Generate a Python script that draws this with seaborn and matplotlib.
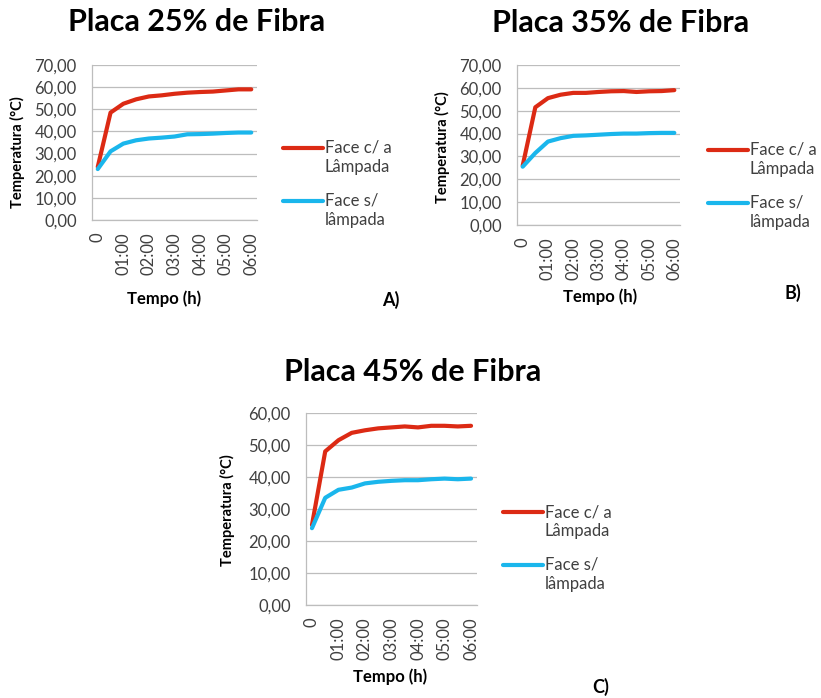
import numpy as np
import pandas as pd
import matplotlib
matplotlib.use("Agg")
import matplotlib.pyplot as plt
import seaborn as sns
from matplotlib.ticker import FuncFormatter

sns.set_theme(style="white")
plt.rcParams['font.family'] = ['Lato', 'DejaVu Sans']

# ---- data ----
time_labels = ["0", "00:30", "01:00", "01:30", "02:00", "02:30", "03:00",
               "03:30", "04:00", "04:30", "05:00", "05:30", "06:00"]
tick_labels = ["0", "01:00", "02:00", "03:00", "04:00", "05:00", "06:00"]
series_names = ["Face c/ a\nLâmpada", "Face s/\nlâmpada"]

a_com = [24.0, 48.5, 52.5, 54.5, 55.8, 56.3, 57.0, 57.5, 57.8, 58.0, 58.5, 59.0, 59.0]
a_sem = [23.0, 31.0, 34.5, 36.0, 36.8, 37.2, 37.7, 38.7, 38.8, 39.0, 39.3, 39.5, 39.5]

b_com = [26.0, 51.5, 55.5, 57.0, 57.8, 57.8, 58.2, 58.5, 58.6, 58.2, 58.5, 58.6, 59.0]
b_sem = [25.5, 31.5, 36.5, 38.0, 39.0, 39.2, 39.5, 39.8, 40.0, 40.0, 40.2, 40.3, 40.3]

c_com = [25.0, 48.0, 51.5, 53.8, 54.6, 55.2, 55.5, 55.8, 55.5, 56.0, 56.0, 55.8, 56.0]
c_sem = [24.0, 33.5, 36.0, 36.7, 38.0, 38.5, 38.8, 39.0, 39.0, 39.3, 39.5, 39.3, 39.5]

titles = ["Placa 25% de Fibra", "Placa 35% de Fibra", "Placa 45% de Fibra"]
panel_tags = ["A)", "B)", "C)"]
y_max = [70, 70, 60]

RED = "#dc2a14"
BLUE = "#1ab6ec"
TXT = "#404040"
GRID = "#bdbdbd"

W, H = 821, 698
fig = plt.figure(figsize=(W / 100, H / 100), dpi=100)


def px_axes(left, top, right, bottom):
    return fig.add_axes([left / W, 1 - bottom / H, (right - left) / W, (bottom - top) / H])


def make_df(com, sem):
    n = len(time_labels)
    return pd.DataFrame({
        "idx": list(range(n)) * 2,
        "temp": list(com) + list(sem),
        "serie": [series_names[0]] * n + [series_names[1]] * n,
    })


panels = [
    dict(box=(92, 65, 257, 220), data=(a_com, a_sem),
         title_xy=(197, 22), xlab=(164, 299), ylab=(17, 152),
         leg=(283, 140), tag_xy=(391, 300)),
    dict(box=(517, 65, 680, 225), data=(b_com, b_sem),
         title_xy=(621, 23), xlab=(600, 297), ylab=(442, 147),
         leg=(708, 142), tag_xy=(793, 293)),
    dict(box=(306, 413, 477, 605), data=(c_com, c_sem),
         title_xy=(413, 372), xlab=(390, 677), ylab=(227, 510),
         leg=(503, 504), tag_xy=(601, 687)),
]

fmt = FuncFormatter(lambda v, p: f"{v:.2f}".replace(".", ","))
LEG_FS = 12

for i, p in enumerate(panels):
    ax = px_axes(*p["box"])
    df = make_df(*p["data"])
    sns.lineplot(data=df, x="idx", y="temp", hue="serie",
                 palette=[RED, BLUE], linewidth=3.0, ax=ax, legend=True)
    ax.set_xlim(-0.45, len(time_labels) - 1 + 0.45)
    ax.set_ylim(0, y_max[i])
    ax.set_yticks(np.arange(0, y_max[i] + 1, 10))
    ax.yaxis.set_major_formatter(fmt)
    ax.set_xticks(np.arange(0, len(time_labels), 2))
    ax.set_xticklabels(tick_labels, rotation=90)
    ax.tick_params(axis="y", labelsize=12, colors=TXT, length=4, width=0.8,
                   pad=7, color=GRID)
    ax.tick_params(axis="x", labelsize=12, colors=TXT, length=0, pad=9)
    ax.grid(axis="y", color=GRID, linewidth=0.9)
    ax.grid(axis="x", visible=False)
    for s in ["top", "right"]:
        ax.spines[s].set_visible(False)
    for s in ["left", "bottom"]:
        ax.spines[s].set_color(GRID)
        ax.spines[s].set_linewidth(0.9)
    ax.set_xlabel("Tempo (h)", fontsize=12, fontweight="bold", color="black")
    ax.set_ylabel("Temperatura (°C)", fontsize=10.5, fontweight="bold", color="black")
    x0, t0, x1, b0 = p["box"]
    ax.xaxis.set_label_coords((p["xlab"][0] - x0) / (x1 - x0), (b0 - p["xlab"][1]) / (b0 - t0))
    ax.yaxis.set_label_coords((p["ylab"][0] - x0) / (x1 - x0), (b0 - p["ylab"][1]) / (b0 - t0))
    ax.xaxis.label.set_va("center")
    ax.yaxis.label.set_va("center")

    handles, labels = ax.get_legend_handles_labels()
    leg = ax.legend(handles, labels, loc="upper left",
                    bbox_to_anchor=(p["leg"][0] / W, 1 - p["leg"][1] / H),
                    bbox_transform=fig.transFigure, frameon=False,
                    fontsize=LEG_FS, handlelength=2.4, handletextpad=0.1,
                    labelspacing=1.1, borderaxespad=0, borderpad=0)
    for t in leg.get_texts():
        t.set_color(TXT)
    for ln in leg.get_lines():
        ln.set_linewidth(3.0)
        # align handle with the first text line (as in the original)
        ln.set_ydata(np.asarray(ln.get_ydata(), dtype=float) + 0.6 * LEG_FS)

    fig.text(p["title_xy"][0] / W, 1 - p["title_xy"][1] / H, titles[i],
             ha="center", va="center", fontsize=22, fontweight="bold", color="black")
    fig.text(p["tag_xy"][0] / W, 1 - p["tag_xy"][1] / H, panel_tags[i],
             ha="center", va="center", fontsize=13, fontweight="bold", color="black")

fig.savefig("out.png", dpi=100)
